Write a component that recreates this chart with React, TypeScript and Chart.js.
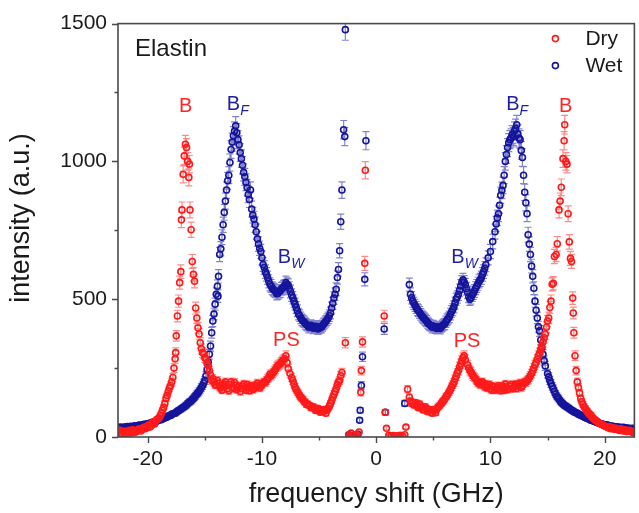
import { useEffect, useRef } from 'react';
import { Chart, registerables } from 'chart.js';

Chart.register(...registerables);

// ---------------- data (frequency shift GHz, intensity a.u.) ----------------
const seriesNames = ['Dry', 'Wet'];
const xTicks = [-20, -10, 0, 10, 20];
const xMinorTicks = [-15, -5, 5, 15];
const yTicks = [0, 500, 1000, 1500];
const yMinorTicks = [250, 750, 1250];
const xRange = [-22.6, 22.6];
const yRange = [0, 1500];

const dryLeft = [
  [-22.6, 20], [-22.4, 14], [-22.2, 22], [-22.0, 12], [-21.8, 18], [-21.6, 24], [-21.4, 15], [-21.2, 22],
  [-21.0, 19], [-20.8, 28], [-20.6, 22], [-20.4, 33], [-20.2, 30], [-20.0, 41], [-19.8, 36], [-19.6, 52],
  [-19.4, 47], [-19.2, 63], [-19.0, 70], [-18.8, 86], [-18.6, 108], [-18.4, 140], [-18.3, 151], [-18.2, 165],
  [-18.1, 178], [-18.0, 187], [-17.9, 200], [-17.8, 216], [-17.7, 250], [-17.6, 284], [-17.55, 306], [-17.5, 367],
  [-17.4, 439], [-17.3, 493], [-17.2, 560], [-17.1, 600], [-17.05, 788], [-17.0, 824], [-16.9, 953], [-16.8, 1020],
  [-16.7, 1062], [-16.6, 1050], [-16.5, 1000], [-16.4, 942], [-16.35, 990], [-16.3, 824], [-16.2, 752], [-16.1, 637],
  [-16.0, 590], [-15.9, 565], [-15.8, 468], [-15.7, 432], [-15.6, 396], [-15.5, 374], [-15.4, 342], [-15.3, 320],
  [-15.2, 306], [-15.1, 302], [-15.0, 288], [-14.9, 284], [-14.8, 268], [-14.7, 259], [-14.6, 241], [-14.5, 225],
  [-14.4, 205], [-14.2, 200], [-14.0, 188], [-13.8, 195], [-13.6, 178], [-13.4, 185], [-13.2, 200], [-13.0, 175],
  [-12.8, 190], [-12.6, 182], [-12.4, 198], [-12.2, 172], [-12.0, 185], [-11.8, 176], [-11.6, 192], [-11.4, 170],
  [-11.2, 180], [-11.0, 186], [-10.8, 172], [-10.6, 188], [-10.4, 195], [-10.2, 178], [-10.0, 190], [-9.8, 200],
  [-9.6, 205], [-9.4, 216], [-9.2, 222], [-9.0, 234], [-8.8, 246], [-8.6, 259], [-8.4, 266], [-8.2, 277],
  [-8.0, 284], [-7.9, 295], [-7.8, 270], [-7.7, 248], [-7.55, 230], [-7.4, 216], [-7.2, 192], [-7.0, 172],
  [-6.8, 158], [-6.6, 144], [-6.4, 135], [-6.2, 126], [-6.0, 120], [-5.8, 114], [-5.6, 108], [-5.4, 104],
  [-5.2, 100], [-5.0, 98], [-4.8, 92], [-4.6, 100], [-4.4, 86], [-4.2, 104], [-4.0, 122], [-3.8, 144],
  [-3.6, 165], [-3.4, 190], [-3.2, 205], [-3.0, 234],
];
const dryLeft2 = [
  [-22.5, 25], [-22.3, 12], [-22.1, 18], [-21.9, 21], [-21.7, 14], [-21.5, 20], [-21.3, 26], [-21.1, 17],
  [-20.9, 24], [-20.7, 30], [-20.5, 27], [-20.3, 36], [-20.1, 34], [-19.9, 44], [-19.7, 40], [-19.5, 55],
  [-19.3, 58], [-19.1, 66], [-18.9, 78], [-18.7, 97], [-18.5, 122],
  [-14.3, 212], [-14.1, 190], [-13.9, 205], [-13.7, 182], [-13.5, 170], [-13.3, 192], [-13.1, 186], [-12.9, 168],
  [-12.7, 200], [-12.5, 176], [-12.3, 188], [-12.1, 180], [-11.9, 165], [-11.7, 184], [-11.5, 178], [-11.3, 190],
  [-11.1, 168], [-10.9, 182], [-10.7, 176], [-10.5, 180], [-10.3, 188], [-10.1, 184], [-9.9, 196], [-9.7, 198],
  [-9.5, 212], [-9.3, 228], [-9.1, 230], [-8.9, 240], [-8.7, 255], [-8.5, 262], [-8.3, 272], [-8.1, 280],
  [-7.3, 205], [-7.1, 180], [-6.9, 165], [-6.7, 150], [-6.5, 140], [-6.3, 128], [-6.1, 118], [-5.9, 115],
  [-5.7, 106], [-5.5, 110], [-5.3, 96], [-5.1, 104], [-4.9, 90], [-4.7, 96], [-4.5, 94], [-4.3, 98],
  [-4.1, 112], [-3.9, 132], [-3.7, 155], [-3.5, 176], [-3.3, 200], [-3.1, 222],
];
const dryCentre = [
  [-2.7, 342], [-2.4, 4], [-2.2, 14], [-2.0, 6], [-1.7, 8], [-1.5, 18], [-1.35, 162], [-1.3, 241],
  [-1.2, 345], [-1.0, 630], [-0.95, 968], [0.7, 439], [0.8, 90], [0.9, 32], [1.1, 6], [1.3, 4],
  [1.5, 5], [1.7, 3], [1.9, 4], [2.1, 6], [2.3, 4], [2.5, 8], [2.6, 36], [2.75, 173],
];
const dryRight = [
  [2.9, 144], [3.0, 130], [3.2, 126], [3.4, 118], [3.6, 112], [3.8, 120], [4.0, 108], [4.2, 100],
  [4.4, 104], [4.6, 96], [4.8, 90], [5.0, 100], [5.2, 88], [5.4, 108], [5.6, 116], [5.8, 128],
  [6.0, 138], [6.2, 150], [6.4, 165], [6.6, 182], [6.8, 198], [7.0, 220], [7.2, 241], [7.4, 266],
  [7.6, 288], [7.7, 295], [7.8, 280], [8.0, 262], [8.2, 241], [8.4, 228], [8.6, 216], [8.8, 205],
  [9.0, 200], [9.2, 195], [9.4, 188], [9.6, 192], [9.8, 182], [10.0, 176], [10.2, 185], [10.4, 170],
  [10.6, 180], [10.8, 174], [11.0, 186], [11.2, 170], [11.4, 182], [11.6, 176], [11.8, 190], [12.0, 178],
  [12.2, 192], [12.4, 185], [12.6, 196], [12.8, 186], [13.0, 200], [13.2, 205], [13.4, 216], [13.6, 230],
  [13.8, 250], [14.0, 270], [14.2, 295], [14.4, 318], [14.5, 330], [14.6, 345], [14.7, 360], [14.8, 374],
  [14.9, 398], [15.0, 421], [15.1, 432], [15.2, 470], [15.3, 493], [15.4, 554], [15.5, 558], [15.6, 655],
  [15.75, 662], [15.85, 701], [16.0, 824], [16.1, 856], [16.2, 906], [16.35, 1010], [16.45, 1075], [16.5, 1133],
  [16.6, 1000], [16.7, 990], [16.8, 810], [16.9, 708], [17.0, 648], [17.1, 637], [17.2, 504], [17.25, 450],
  [17.3, 378], [17.4, 295], [17.5, 241], [17.6, 200], [17.7, 180], [17.8, 160], [17.9, 140], [18.0, 128],
  [18.2, 110], [18.4, 97], [18.6, 86], [18.8, 79], [19.0, 68], [19.2, 60], [19.4, 54], [19.6, 48],
  [19.8, 44], [20.0, 40], [20.2, 36], [20.4, 38], [20.6, 32], [20.8, 28], [21.0, 32], [21.2, 26],
  [21.4, 30], [21.6, 22], [21.8, 26], [22.0, 20], [22.2, 24], [22.4, 18], [22.6, 20],
];
const dryRight2 = [
  [3.1, 122], [3.3, 116], [3.5, 124], [3.7, 106], [3.9, 112], [4.1, 98], [4.3, 110], [4.5, 92],
  [4.7, 100], [4.9, 86], [5.1, 94], [5.3, 102], [5.5, 112], [5.7, 122], [5.9, 132], [6.1, 146],
  [6.3, 158], [6.5, 172], [6.7, 190], [6.9, 210], [7.1, 232], [7.3, 255], [7.5, 278],
  [8.1, 250], [8.3, 236], [8.5, 220], [8.7, 210], [8.9, 196], [9.1, 190], [9.3, 200], [9.5, 182],
  [9.7, 178], [9.9, 190], [10.1, 170], [10.3, 182], [10.5, 176], [10.7, 186], [10.9, 168], [11.1, 178],
  [11.3, 192], [11.5, 172], [11.7, 184], [11.9, 175], [12.1, 186], [12.3, 176], [12.5, 190], [12.7, 180],
  [12.9, 195], [13.1, 198], [13.3, 208], [13.5, 222], [13.7, 240], [13.9, 262], [14.1, 282], [14.3, 305],
  [18.1, 118], [18.3, 104], [18.5, 92], [18.7, 82], [18.9, 72], [19.1, 64], [19.3, 58], [19.5, 50],
  [19.7, 46], [19.9, 42], [20.1, 38], [20.3, 34], [20.5, 30], [20.7, 34], [20.9, 30], [21.1, 27],
  [21.3, 24], [21.5, 28], [21.7, 25], [21.9, 20], [22.1, 22], [22.3, 19], [22.5, 16],
];

const wetLeft = [
  [-22.6, 32], [-22.4, 36], [-22.2, 30], [-22.0, 35], [-21.8, 38], [-21.6, 33], [-21.4, 37], [-21.2, 40],
  [-21.0, 36], [-20.8, 42], [-20.6, 40], [-20.4, 45], [-20.2, 44], [-20.0, 48], [-19.8, 50], [-19.6, 49],
  [-19.4, 55], [-19.2, 57], [-19.0, 62], [-18.8, 63], [-18.6, 68], [-18.4, 71], [-18.2, 76], [-18.0, 78],
  [-17.8, 84], [-17.6, 86], [-17.4, 93], [-17.2, 98], [-17.0, 104], [-16.8, 110], [-16.6, 116], [-16.4, 125],
  [-16.2, 131], [-16.0, 140], [-15.8, 150], [-15.6, 160], [-15.4, 172], [-15.2, 186], [-15.0, 205], [-14.9, 222],
  [-14.8, 245], [-14.7, 272], [-14.6, 300], [-14.5, 330], [-14.4, 378], [-14.3, 421], [-14.2, 446], [-14.1, 482],
  [-14.0, 518], [-13.9, 547], [-13.85, 511], [-13.8, 583], [-13.7, 662], [-13.6, 683], [-13.5, 725], [-13.4, 770],
  [-13.3, 815], [-13.2, 856], [-13.1, 896], [-13.0, 930], [-12.9, 950], [-12.8, 996], [-12.7, 1043], [-12.6, 1070],
  [-12.5, 1093], [-12.4, 1110], [-12.3, 1129], [-12.2, 1104], [-12.1, 1079], [-12.0, 1060], [-11.9, 1032], [-11.8, 1010],
  [-11.7, 986], [-11.6, 960], [-11.5, 944], [-11.4, 924], [-11.3, 905], [-11.2, 880], [-11.1, 862], [-11.0, 896],
  [-10.9, 827], [-10.8, 805], [-10.7, 791], [-10.6, 770], [-10.5, 745], [-10.4, 719], [-10.3, 700], [-10.2, 685],
  [-10.1, 673], [-10.0, 650], [-9.9, 626], [-9.8, 615], [-9.7, 600], [-9.6, 590], [-9.5, 578], [-9.4, 565],
  [-9.3, 554], [-9.2, 548], [-9.1, 540], [-9.0, 535], [-8.8, 529], [-8.6, 522], [-8.4, 530], [-8.2, 540],
  [-8.0, 548], [-7.8, 554], [-7.6, 540], [-7.4, 515], [-7.2, 493], [-7.0, 470], [-6.8, 446], [-6.6, 432],
  [-6.4, 421], [-6.2, 412], [-6.0, 405], [-5.8, 403], [-5.6, 398], [-5.4, 400], [-5.2, 396], [-5.0, 395],
  [-4.8, 398], [-4.6, 410], [-4.4, 420], [-4.2, 432], [-4.0, 450], [-3.9, 468], [-3.8, 485], [-3.7, 504],
  [-3.6, 518], [-3.5, 536], [-3.4, 579], [-3.3, 608], [-3.2, 676], [-3.1, 781], [-3.0, 896],
];
const wetLeft2 = [
  [-22.5, 34], [-22.3, 31], [-22.1, 36], [-21.9, 33], [-21.7, 36], [-21.5, 39], [-21.3, 35], [-21.1, 41],
  [-20.9, 39], [-20.7, 43], [-20.5, 41], [-20.3, 46], [-20.1, 47], [-19.9, 47], [-19.7, 52], [-19.5, 53],
  [-19.3, 56], [-19.1, 60], [-18.9, 64], [-18.7, 66], [-18.5, 70], [-18.3, 73], [-18.1, 77], [-17.9, 82],
  [-17.7, 85], [-17.5, 90], [-17.3, 96], [-17.1, 101], [-16.9, 107], [-16.7, 113], [-16.5, 121], [-16.3, 128],
  [-16.1, 136], [-15.9, 145], [-15.7, 156], [-15.5, 166], [-15.3, 180], [-15.1, 196],
  [-8.9, 532], [-8.7, 520], [-8.5, 528], [-8.3, 538], [-8.1, 545], [-7.9, 560], [-7.7, 550], [-7.5, 528],
  [-7.3, 505], [-7.1, 482], [-6.9, 458], [-6.7, 440], [-6.5, 425], [-6.3, 418], [-6.1, 408], [-5.9, 398],
  [-5.7, 405], [-5.5, 395], [-5.3, 402], [-5.1, 392], [-4.9, 400], [-4.7, 404], [-4.5, 415], [-4.3, 426],
  [-4.1, 440],
];
const wetCentre = [
  [-2.85, 1115], [-2.75, 1090], [-2.7, 1478], [-2.4, 8], [-2.2, 4], [-1.9, 6], [-1.6, 10], [-1.45, 61],
  [-1.4, 97], [-1.3, 187], [-1.2, 291], [-1.0, 572], [-0.9, 1075], [0.7, 392], [0.8, 90], [2.5, 122],
];
const wetRight = [
  [2.9, 553], [3.0, 518], [3.1, 505], [3.2, 493], [3.4, 478], [3.6, 462], [3.8, 452], [4.0, 439],
  [4.2, 430], [4.4, 421], [4.6, 410], [4.8, 404], [5.0, 403], [5.2, 396], [5.4, 400], [5.6, 394],
  [5.8, 404], [6.0, 410], [6.2, 425], [6.4, 436], [6.6, 455], [6.8, 472], [7.0, 500], [7.2, 518],
  [7.4, 548], [7.6, 570], [7.8, 552], [8.0, 525], [8.2, 500], [8.4, 515], [8.6, 530], [8.8, 548],
  [9.0, 565], [9.2, 578], [9.4, 600], [9.6, 625], [9.8, 650], [10.0, 673], [10.2, 709], [10.4, 745],
  [10.5, 773], [10.6, 795], [10.7, 810], [10.8, 841], [10.9, 877], [11.0, 895], [11.1, 913], [11.2, 950],
  [11.3, 1000], [11.4, 1025], [11.5, 1050], [11.6, 1068], [11.7, 1079], [11.8, 1085], [11.9, 1097], [12.0, 1090],
  [12.1, 1110], [12.2, 1120], [12.3, 1133], [12.4, 1100], [12.5, 1085], [12.6, 1079], [12.7, 1040], [12.8, 1014],
  [12.9, 950], [13.0, 888], [13.1, 850], [13.2, 810], [13.3, 734], [13.4, 700], [13.5, 662], [13.6, 620],
  [13.7, 583], [13.8, 540], [13.9, 493], [14.0, 460], [14.1, 432], [14.2, 400], [14.3, 385], [14.4, 352],
  [14.5, 324], [14.6, 300], [14.7, 277], [14.8, 258], [15.0, 230], [15.2, 205], [15.4, 184], [15.6, 165],
  [15.8, 148], [16.0, 138], [16.2, 126], [16.4, 118], [16.6, 112], [16.8, 106], [17.0, 100], [17.2, 95],
  [17.4, 90], [17.6, 86], [17.8, 81], [18.0, 77], [18.2, 73], [18.4, 69], [18.6, 66], [18.8, 61],
  [19.0, 58], [19.2, 55], [19.4, 52], [19.6, 49], [19.8, 47], [20.0, 44], [20.2, 43], [20.4, 41],
  [20.6, 39], [20.8, 38], [21.0, 36], [21.2, 35], [21.4, 34], [21.6, 35], [21.8, 33], [22.0, 32],
  [22.2, 31], [22.4, 32], [22.6, 30],
];
const wetRight2 = [
  [3.3, 485], [3.5, 470], [3.7, 458], [3.9, 445], [4.1, 434], [4.3, 425], [4.5, 415], [4.7, 406],
  [4.9, 398], [5.1, 400], [5.3, 394], [5.5, 398], [5.7, 400], [5.9, 408], [6.1, 418], [6.3, 430],
  [6.5, 446], [6.7, 462], [6.9, 486], [7.1, 508], [7.3, 532], [7.5, 562], [7.7, 562], [7.9, 538],
  [8.1, 510], [8.3, 505], [8.5, 522], [8.7, 540], [8.9, 556], [9.1, 570], [9.3, 590], [9.5, 612],
  [15.1, 218], [15.3, 194], [15.5, 175], [15.7, 156], [15.9, 143], [16.1, 131], [16.3, 122], [16.5, 114],
  [16.7, 109], [16.9, 103], [17.1, 97], [17.3, 92], [17.5, 88], [17.7, 83], [17.9, 79], [18.1, 75],
  [18.3, 71], [18.5, 67], [18.7, 63], [18.9, 60], [19.1, 57], [19.3, 53], [19.5, 51], [19.7, 48],
  [19.9, 45], [20.1, 44], [20.3, 42], [20.5, 40], [20.7, 39], [20.9, 37], [21.1, 36], [21.3, 35],
  [21.5, 33], [21.7, 34], [21.9, 32], [22.1, 32], [22.3, 30], [22.5, 31],
];

// peak labels placed in data coordinates
const peakLabels = [
  { main: 'B', sub: '', x: -16.68, y: 1205, series: 0 },
  { main: 'B', sub: 'F', x: -12.49, y: 1212, series: 1 },
  { main: 'B', sub: 'W', x: -8.03, y: 658, series: 1 },
  { main: 'PS', sub: '', x: -7.86, y: 356, series: 0 },
  { main: 'B', sub: 'W', x: 7.16, y: 658, series: 1 },
  { main: 'PS', sub: '', x: 7.95, y: 353, series: 0 },
  { main: 'B', sub: 'F', x: 11.97, y: 1212, series: 1 },
  { main: 'B', sub: '', x: 16.59, y: 1205, series: 0 },
];
const sampleName = 'Elastin';
const xTitle = 'frequency shift (GHz)';
const yTitle = 'intensity (a.u.)';

// ---------------- styling ----------------
const FONT = "'Liberation Sans', Arial, Helvetica, sans-serif";
const markerColors = ['#ff1a1a', '#14149c'];
const textColors = ['#ff2424', '#1e1ea0'];
const errColors = ['rgba(255,40,40,0.55)', 'rgba(30,30,160,0.55)'];
const AXIS = '#4a4a4a';

const toPoints = (arr: number[][]) =>
  arr.map(([x, y]) => ({ x, y, err: Math.sqrt(Math.max(y, 0)) }));

const errorBarPlugin = {
  id: 'errorBars',
  beforeDatasetDraw(chart: any, args: any) {
    const ds = chart.data.datasets[args.index];
    const meta = args.meta;
    const { ctx, chartArea } = chart;
    const yScale = chart.scales.y;
    ctx.save();
    ctx.beginPath();
    ctx.rect(chartArea.left, chartArea.top, chartArea.right - chartArea.left, chartArea.bottom - chartArea.top);
    ctx.clip();
    ctx.strokeStyle = errColors[args.index];
    ctx.lineWidth = 1.2;
    ctx.beginPath();
    meta.data.forEach((pt: any, i: number) => {
      const d = ds.data[i];
      const yTop = yScale.getPixelForValue(d.y + d.err);
      const yBot = yScale.getPixelForValue(d.y - d.err);
      const px = pt.x;
      ctx.moveTo(px, yTop);
      ctx.lineTo(px, yBot);
      ctx.moveTo(px - 3.5, yTop);
      ctx.lineTo(px + 3.5, yTop);
      ctx.moveTo(px - 3.5, yBot);
      ctx.lineTo(px + 3.5, yBot);
    });
    ctx.stroke();
    ctx.restore();
  },
};

const decorPlugin = {
  id: 'decor',
  afterDraw(chart: any) {
    const { ctx, chartArea } = chart;
    const xs = chart.scales.x;
    const ys = chart.scales.y;
    const { left, right, top, bottom } = chartArea;
    ctx.save();
    // frame
    ctx.strokeStyle = AXIS;
    ctx.lineWidth = 1.6;
    ctx.strokeRect(left, top, right - left, bottom - top);
    // ticks
    ctx.lineWidth = 1.4;
    ctx.beginPath();
    xTicks.forEach((v) => {
      const p = Math.round(xs.getPixelForValue(v)) + 0.5;
      ctx.moveTo(p, bottom);
      ctx.lineTo(p, bottom + 6);
    });
    xMinorTicks.forEach((v) => {
      const p = Math.round(xs.getPixelForValue(v)) + 0.5;
      ctx.moveTo(p, bottom);
      ctx.lineTo(p, bottom + 3.5);
    });
    yTicks.forEach((v) => {
      const p = Math.round(ys.getPixelForValue(v)) + 0.5;
      ctx.moveTo(left, p);
      ctx.lineTo(left - 6, p);
    });
    yMinorTicks.forEach((v) => {
      const p = Math.round(ys.getPixelForValue(v)) + 0.5;
      ctx.moveTo(left, p);
      ctx.lineTo(left - 3.5, p);
    });
    ctx.stroke();

    // axis titles
    ctx.fillStyle = '#1a1a1a';
    ctx.font = `27px ${FONT}`;
    ctx.textAlign = 'center';
    ctx.textBaseline = 'alphabetic';
    ctx.fillText(xTitle, (left + right) / 2, 502);
    ctx.save();
    ctx.translate(29, 218);
    ctx.rotate(-Math.PI / 2);
    ctx.fillText(yTitle, 0, 0);
    ctx.restore();

    // sample name
    ctx.textAlign = 'left';
    ctx.font = `24px ${FONT}`;
    ctx.fillText(sampleName, left + 17, top + 32);

    // legend
    seriesNames.forEach((name, i) => {
      const cy = top + 15 + i * 27;
      ctx.strokeStyle = markerColors[i];
      ctx.lineWidth = 1.6;
      ctx.beginPath();
      ctx.arc(right - 79, cy, 3, 0, Math.PI * 2);
      ctx.stroke();
      ctx.fillStyle = '#1a1a1a';
      ctx.font = `21px ${FONT}`;
      ctx.textAlign = 'left';
      ctx.textBaseline = 'middle';
      ctx.fillText(name, right - 49, cy + 1);
    });

    // peak labels
    peakLabels.forEach((lb) => {
      const cx = xs.getPixelForValue(lb.x);
      const cy = ys.getPixelForValue(lb.y);
      ctx.fillStyle = textColors[lb.series];
      ctx.font = `20px ${FONT}`;
      ctx.textAlign = 'center';
      ctx.textBaseline = 'alphabetic';
      const base = cy + 7;
      ctx.fillText(lb.main, cx, base);
      if (lb.sub) {
        const w = ctx.measureText(lb.main).width;
        ctx.font = `italic 14px ${FONT}`;
        ctx.textAlign = 'left';
        ctx.fillText(lb.sub, cx + w / 2, base + 5);
      }
    });
    ctx.restore();
  },
};

export default function App() {
  const ref = useRef<HTMLCanvasElement>(null);
  useEffect(() => {
    document.body.style.margin = '0';
    document.body.style.overflow = 'hidden';
    const canvas = ref.current as HTMLCanvasElement;
    const makeDs = (label: string, pts: number[][], i: number) => ({
      label,
      data: toPoints(pts),
      showLine: false,
      pointStyle: 'circle',
      pointRadius: 3,
      pointHoverRadius: 3,
      pointBorderWidth: 1.6,
      borderColor: markerColors[i],
      pointBorderColor: markerColors[i],
      backgroundColor: 'rgba(255,255,255,0)',
      pointBackgroundColor: 'rgba(255,255,255,0)',
    });
    const chart = new Chart(canvas, {
      type: 'scatter',
      data: {
        datasets: [
          makeDs(seriesNames[0], [...dryLeft, ...dryLeft2, ...dryCentre, ...dryRight, ...dryRight2], 0),
          makeDs(seriesNames[1], [...wetLeft, ...wetLeft2, ...wetCentre, ...wetRight, ...wetRight2], 1),
        ],
      },
      options: {
        responsive: false,
        animation: false,
        devicePixelRatio: 1,
        layout: { padding: { top: 20, right: 2, left: 0, bottom: 0 } },
        plugins: { legend: { display: false }, tooltip: { enabled: false } },
        scales: {
          x: {
            type: 'linear',
            min: xRange[0],
            max: xRange[1],
            afterFit: (s: any) => { s.height = 76; },
            afterBuildTicks: (s: any) => { s.ticks = xTicks.map((v) => ({ value: v })); },
            grid: { display: false, drawTicks: false },
            border: { display: false },
            ticks: {
              autoSkip: false,
              maxRotation: 0,
              padding: 10,
              color: '#1a1a1a',
              font: { size: 21, family: FONT },
              callback: (v: any) => String(v),
            },
            title: { display: false },
          },
          y: {
            type: 'linear',
            min: yRange[0],
            max: yRange[1],
            afterFit: (s: any) => { s.width = 118; },
            afterBuildTicks: (s: any) => { s.ticks = yTicks.map((v) => ({ value: v })); },
            grid: { display: false, drawTicks: false },
            border: { display: false },
            ticks: {
              autoSkip: false,
              padding: 11,
              color: '#1a1a1a',
              font: { size: 21, family: FONT },
              callback: (v: any) => String(v),
            },
            title: { display: false },
          },
        },
      } as any,
      plugins: [errorBarPlugin, decorPlugin],
    } as any);
    return () => chart.destroy();
  }, []);
  return (
    <canvas
      ref={ref}
      width={639}
      height={513}
      style={{ display: 'block', width: '639px', height: '513px' }}
    />
  );
}
